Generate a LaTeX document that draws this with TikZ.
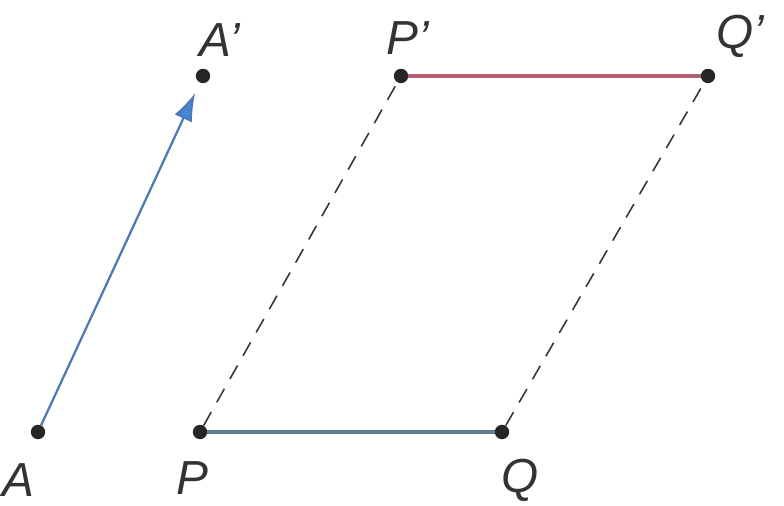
\documentclass[tikz,border=0pt]{standalone}
\usepackage{fontspec}
\setmainfont{Liberation Sans}
\usetikzlibrary{arrows.meta,positioning}
\definecolor{vecblue}{HTML}{4F78B8}
\definecolor{tipblue}{HTML}{3F88D8}
\definecolor{segblue}{HTML}{5E7C8E}
\definecolor{segred}{HTML}{B35E72}

\begin{document}
\begin{tikzpicture}[
    dot/.style={circle, fill=black!85, inner sep=0pt, minimum size=0.36cm},
    lbl/.style={font=\fontsize{34}{38}\selectfont\itshape, text=black!80, inner sep=0pt},
    vec/.style={-{Latex[length=0.7cm, width=0.48cm, fill=tipblue]}, vecblue, line width=1.6pt, shorten >=0.28cm},
    seg/.style={line width=2.4pt},
    trail/.style={black!80, line width=1.1pt, dash pattern=on 11pt off 8pt}
]
\useasboundingbox[fill=white] (0,0) rectangle (19.6,12.65);
% points
\node[dot] (A)  at (0.95,1.85) {};
\node[dot] (A1) at (5.075,10.75) {};
\node[dot] (P)  at (5.0,1.85) {};
\node[dot] (Q)  at (12.55,1.85) {};
\node[dot] (P1) at (10.025,10.75) {};
\node[dot] (Q1) at (17.7,10.75) {};
% labels
\node[lbl] (lA)  at (0.45,0.65) {A};
\node[lbl] (lA1) at (5.5,11.65) {A’};
\node[lbl] (lP)  at (4.8,0.7) {P};
\node[lbl] (lQ)  at (13.0,0.65) {Q};
\node[lbl] (lP1) at (10.2,11.7) {P’};
\node[lbl] (lQ1) at (18.5,11.75) {Q’};
% translation
\draw[vec] (A) -- (A1);
\draw[trail] (P) -- (P1);
\draw[trail] (Q) -- (Q1);
\draw[seg, segblue] (P) -- (Q);
\draw[seg, segred] (P1) -- (Q1);
\end{tikzpicture}
\end{document}
